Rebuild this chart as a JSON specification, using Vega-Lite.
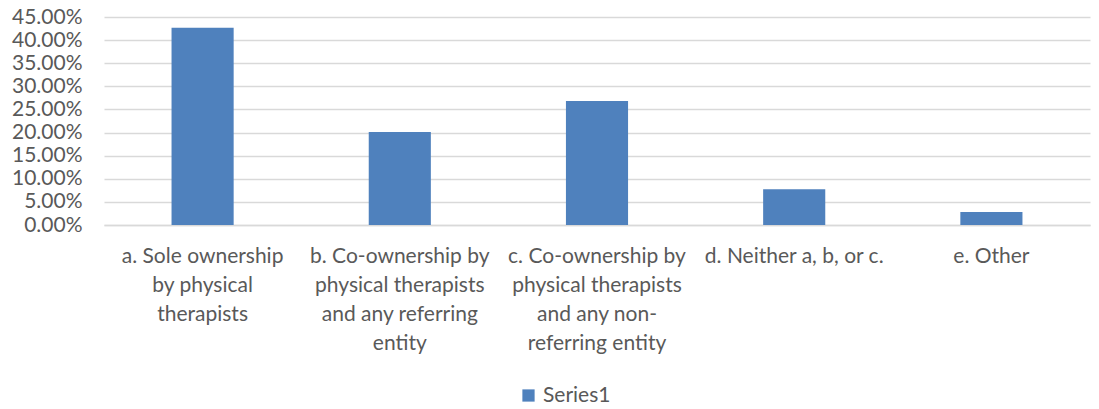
{
  "$schema": "https://vega.github.io/schema/vega-lite/v6.json",
  "width": 986,
  "height": 208,
  "autosize": {"type": "none"},
  "padding": {"left": 104, "top": 17, "right": 9, "bottom": 184},
  "background": "white",
  "config": {
    "view": {"stroke": null},
    "font": "Lato",
    "axis": {"labelFont": "Lato", "labelColor": "#595959", "labelFontSize": 21}
  },
  "data": {
    "values": [
      {"category": "a. Sole ownership|by physical|therapists", "value": 0.4268, "series": "Series1"},
      {"category": "b. Co-ownership by|physical therapists|and any referring|entity", "value": 0.201, "series": "Series1"},
      {"category": "c. Co-ownership by|physical therapists|and any non-|referring entity", "value": 0.268, "series": "Series1"},
      {"category": "d. Neither a, b, or c.", "value": 0.0772, "series": "Series1"},
      {"category": "e. Other", "value": 0.0281, "series": "Series1"}
    ]
  },
  "mark": {"type": "bar", "color": "#4F81BD"},
  "encoding": {
    "x": {
      "field": "category",
      "type": "nominal",
      "sort": null,
      "scale": {"paddingInner": 0.685, "paddingOuter": 0.3425},
      "axis": {
        "title": null,
        "labelAngle": 0,
        "labelExpr": "split(datum.label, '|')",
        "labelLineHeight": 29,
        "labelPadding": 20,
        "labelLimit": 300,
        "ticks": false,
        "domainColor": "#D9D9D9",
        "domainWidth": 1.5
      }
    },
    "y": {
      "field": "value",
      "type": "quantitative",
      "scale": {"domain": [0, 0.45]},
      "axis": {
        "title": null,
        "format": ".2%",
        "values": [0, 0.05, 0.1, 0.15, 0.2, 0.25, 0.3, 0.35, 0.4, 0.45],
        "domain": false,
        "ticks": false,
        "labelPadding": 22,
        "gridColor": "#D9D9D9",
        "gridWidth": 1.5
      }
    },
    "fill": {
      "field": "series",
      "type": "nominal",
      "scale": {"range": ["#4F81BD"]},
      "legend": {
        "title": null,
        "orient": "none",
        "legendX": 414,
        "legendY": 368,
        "symbolType": "square",
        "symbolSize": 150,
        "symbolStrokeWidth": 0,
        "labelFontSize": 21,
        "labelColor": "#595959",
        "labelFont": "Lato",
        "labelOffset": 4
      }
    }
  }
}
